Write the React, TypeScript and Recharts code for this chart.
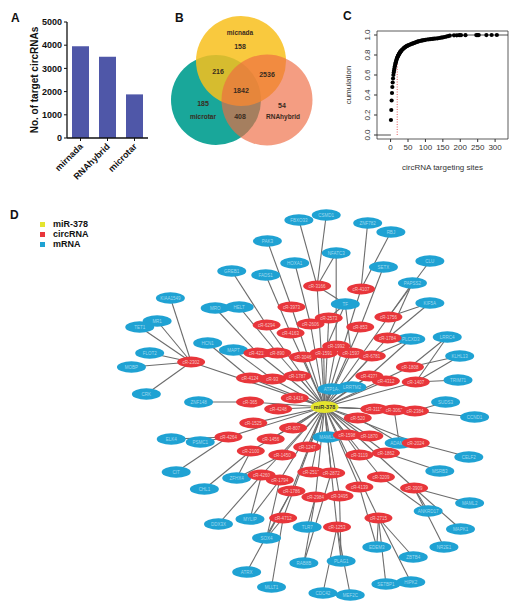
import { BarChart, Bar, XAxis, YAxis, ScatterChart, Scatter, ReferenceArea, Legend } from 'recharts';

const FONT = '"Liberation Sans", Arial, Helvetica, sans-serif';

// ---- A: target circRNAs predicted by each tool
const tools = ['mirnada', 'RNAhybrid', 'microtar'];
const targetCounts = [3960, 3500, 1880];
const countTicks = [0, 1000, 2000, 3000, 4000, 5000];

// ---- B: venn of the three tools (drawing order: microtar, micnada, RNAhybrid)
const vennSets = ['microtar', 'micnada', 'RNAhybrid'];
const vennRegionCounts = [158, 216, 2536, 1842, 185, 408, 54];
// layout of the venn (chart units)
const vennCenters = [[66, 100], [91, 61], [117, 100]];
const vennRadius = [45, 45, 45.5];
const vennSetLabelPos = [[53, 117], [90, 33], [133, 117]];
const vennRegionPos = [[90, 47], [68, 72], [117, 75], [91, 91], [53, 104], [90, 117], [132, 106]];

// ---- C: cumulative distribution of circRNA targeting sites
const siteCounts = [
  1, 2, 3, 4, 5, 6, 7, 8, 9, 10, 11, 12, 13, 14, 15, 16, 17, 18, 19, 20,
  21, 22, 23, 24, 25, 26, 27, 28, 29, 30, 32, 34, 36, 38, 40, 42, 44, 46, 48, 50,
  53, 56, 59, 62, 65, 68, 71, 74, 77, 80, 84, 88, 92, 96, 100,
  105, 110, 115, 120, 125, 130, 135, 140, 145, 150, 155, 160, 165, 170,
  182, 190, 197, 202, 215, 246, 250, 253, 275, 290, 305,
];
const cumulation = [
  0.15, 0.25, 0.345, 0.42, 0.48, 0.525, 0.565, 0.6, 0.625, 0.645,
  0.665, 0.685, 0.7, 0.715, 0.728, 0.74, 0.752, 0.762, 0.772, 0.78,
  0.788, 0.795, 0.802, 0.808, 0.814, 0.82, 0.826, 0.831, 0.836, 0.84,
  0.848, 0.855, 0.862, 0.868, 0.874, 0.879, 0.884, 0.888, 0.892, 0.896,
  0.9, 0.905, 0.909, 0.913, 0.917, 0.921, 0.925, 0.929, 0.933, 0.936,
  0.94, 0.943, 0.946, 0.949, 0.952,
  0.955, 0.957, 0.959, 0.961, 0.963, 0.965, 0.967, 0.97, 0.973, 0.976, 0.98, 0.984, 0.988, 0.993,
  0.997, 0.997, 0.998, 0.998, 0.998, 0.999, 0.999, 0.999, 0.999, 1, 1,
];
const siteTicks = [0, 50, 100, 150, 200, 250, 300];
const cumTicks = [0, 0.2, 0.4, 0.6, 0.8, 1];
const siteCutoff = 19;
const siteDomain = [-39, 337];
const cumDomain = [-0.04, 1.04];

// ---- D: miR-378 / circRNA / mRNA network
const hubName = 'miR-378';
const hubPos = [283, 407];
const circRNAs = [
  'cR-3166', 'cR-4107', 'cR-1756', 'cR-2573', 'cR-2606', 'cR-853', 'cR-1784', 'cR-1992', 'cR-1591', 'cR-1593',
  'cR-6781', 'cR-1808', 'cR-4371', 'cR-4312', 'cR-1407', 'cR-3046', 'cR-3973', 'cR-6294', 'cR-4163', 'cR-4210',
  'cR-890', 'cR-2302', 'cR-4124', 'cR-93', 'cR-1787', 'cR-365', 'cR-1416', 'cR-4248', 'cR-1525', 'cR-807',
  'cR-4264', 'cR-1456', 'cR-2100', 'cR-1450', 'cR-1247', 'cR-4260', 'cR-1794', 'cR-1786', 'cR-2513', 'cR-2984',
  'cR-4712', 'cR-3115', 'cR-3062', 'cR-2384', 'cR-520', 'cR-1598', 'cR-1870', 'cR-2024', 'cR-1862', 'cR-3119',
  'cR-2872', 'cR-3495', 'cR-4139', 'cR-3209', 'cR-3909', 'cR-2715', 'cR-1253',
];
const circX = [
  274, 327, 360, 288, 266, 326, 359, 297, 282, 315, 340, 386, 337, 357, 393, 257, 243, 213, 242, 202,
  226, 122, 193, 220, 250, 193, 247, 227, 197, 245, 167, 218, 194, 232, 262, 207, 229, 243, 267, 272,
  233, 343, 367, 392, 323, 310, 337, 393, 357, 325, 291, 301, 325, 351, 391, 348, 298,
];
const circY = [
  286, 289, 317, 318, 324, 327, 338, 346, 353, 353, 356, 367, 376, 381, 382, 357, 307, 325, 333, 353,
  353, 362, 378, 379, 376, 402, 398, 409, 423, 428, 437, 439, 451, 455, 447, 475, 480, 491, 472, 497,
  518, 409, 410, 411, 418, 435, 436, 443, 453, 455, 473, 496, 487, 477, 488, 518, 527,
];
const mRNAs = [
  'FBXO33', 'CSMD1', 'ZNF782', 'RBJ', 'PAK3', 'NFATC3', 'HOXA1', 'CLU', 'SETX', 'GREB1',
  'FADS1', 'PAPSS2', 'KIAA1549', 'KIF5A', 'TF', 'MRO', 'HELT', 'MR1', 'TET1', 'PLCXD3',
  'LRRC4', 'HCN1', 'MAPT', 'FLOT2', 'KLHL13', 'MOBP', 'TRIM71', 'ATP1A4', 'LRRTM2', 'CRK',
  'ZNF148', 'SUDS3', 'CCND1', 'ELK4', 'PSMC1', 'MAML3', 'ADAM10', 'CELF2', 'CIT', 'ZFHX4',
  'MSRB3', 'CHL1', 'MAML2', 'ANKRD17', 'MYLIP', 'DDX3X', 'TLR7', 'MAPK1', 'SOX4', 'NR2E1',
  'EDEM3', 'ZBTB4', 'PLAG1', 'RAB8B', 'ATRX', 'SETBP1', 'HIPK2', 'MLLT1', 'CDC42', 'MEF2C',
];
const mRNAX = [
  252, 285, 335, 363, 214, 297, 247, 410, 354, 171, 212, 389, 97, 410, 308, 151, 180, 81, 60, 387,
  431, 142, 173, 72, 446, 50, 444, 292, 316, 68, 131, 429, 464, 98, 133, 286, 373, 457, 104, 177,
  422, 138, 458, 408, 193, 155, 262, 447, 213, 427, 346, 390, 303, 258, 189, 357, 387, 219, 281, 314,
];
const mRNAY = [
  220, 215, 223, 232, 241, 253, 263, 261, 267, 271, 275, 283, 298, 303, 304, 308, 307, 321, 327, 339,
  337, 343, 350, 353, 356, 367, 380, 389, 387, 394, 402, 402, 417, 439, 442, 437, 443, 457, 472, 478,
  471, 489, 503, 511, 519, 524, 527, 529, 538, 547, 547, 557, 561, 563, 572, 584, 582, 587, 593, 595,
];
// mRNA -> circRNA (or miR-378) interactions
const mRNALinks = [
  ['FBXO33', 'cR-3166'], ['CSMD1', 'cR-3166'], ['ZNF782', 'cR-4107'], ['RBJ', 'cR-4107'],
  ['PAK3', 'cR-3973'], ['NFATC3', 'cR-3166'], ['NFATC3', 'cR-1992'], ['HOXA1', 'cR-2606'],
  ['CLU', 'cR-1756'], ['SETX', 'cR-853'], ['GREB1', 'cR-6294'], ['FADS1', 'cR-4163'],
  ['PAPSS2', 'cR-1756'], ['PAPSS2', 'cR-1784'], ['KIAA1549', 'cR-2302'], ['KIF5A', 'cR-1756'],
  ['KIF5A', 'cR-1784'], ['TF', 'cR-3166'], ['TF', 'cR-2573'], ['TF', 'cR-1591'], ['TF', 'cR-1593'],
  ['MRO', 'cR-4210'], ['HELT', 'cR-890'], ['MR1', 'cR-2302'], ['TET1', 'cR-2302'],
  ['FLOT2', 'cR-2302'], ['MOBP', 'cR-2302'], ['CRK', 'cR-2302'], ['PLCXD3', 'cR-1784'],
  ['PLCXD3', 'cR-6781'], ['PLCXD3', 'cR-4371'], ['LRRC4', 'cR-1808'], ['LRRC4', 'cR-1407'],
  ['HCN1', 'cR-4124'], ['MAPT', 'cR-93'], ['KLHL13', 'cR-1808'], ['KLHL13', 'cR-1407'],
  ['TRIM71', 'cR-1407'], ['ATP1A4', 'miR-378'], ['LRRTM2', 'miR-378'], ['LRRTM2', 'cR-4371'],
  ['ZNF148', 'cR-365'], ['SUDS3', 'cR-2384'], ['CCND1', 'cR-2384'], ['ELK4', 'cR-4264'],
  ['PSMC1', 'cR-4264'], ['MAML3', 'miR-378'], ['ADAM10', 'cR-520'], ['ADAM10', 'cR-3062'],
  ['CELF2', 'cR-2024'], ['CIT', 'cR-4264'], ['ZFHX4', 'cR-2100'], ['ZFHX4', 'cR-1450'],
  ['MSRB3', 'cR-1862'], ['CHL1', 'cR-2100'], ['MAML2', 'cR-3909'], ['ANKRD17', 'cR-3209'],
  ['ANKRD17', 'cR-3909'], ['MYLIP', 'cR-4260'], ['MYLIP', 'cR-1794'], ['DDX3X', 'cR-4260'],
  ['TLR7', 'cR-2984'], ['MAPK1', 'cR-3909'], ['SOX4', 'cR-1786'], ['SOX4', 'cR-4712'],
  ['SOX4', 'cR-1794'], ['NR2E1', 'cR-3909'], ['EDEM3', 'cR-4139'], ['EDEM3', 'cR-2715'],
  ['ZBTB4', 'cR-2715'], ['PLAG1', 'cR-3495'], ['PLAG1', 'cR-1253'], ['RAB8B', 'cR-2984'],
  ['RAB8B', 'cR-2872'], ['ATRX', 'cR-1786'], ['SETBP1', 'cR-2715'], ['HIPK2', 'cR-2715'],
  ['MLLT1', 'cR-4712'], ['CDC42', 'cR-1253'], ['MEF2C', 'cR-1253'],
];
const legendItems = ['miR-378', 'circRNA', 'mRNA'];

const nodeColors: Record<string, string> = { 'miR-378': '#e4e42e', circRNA: '#e8363b', mRNA: '#1fa2d3' };

// build tables
const toolData = tools.map((name, i) => ({ name, count: targetCounts[i] }));
const vennColors: Record<string, { fill: string; opacity: number }> = {
  microtar: { fill: '#19a79a', opacity: 1 },
  micnada: { fill: '#f8c01c', opacity: 0.85 },
  RNAhybrid: { fill: '#ee6a42', opacity: 0.66 },
};
const vennCircles = vennSets.map((name, i) => ({ name, x: vennCenters[i][0], y: vennCenters[i][1], r: vennRadius[i] }));
const vennNames = vennSets.map((name, i) => ({ text: name, x: vennSetLabelPos[i][0], y: vennSetLabelPos[i][1] }));
const vennNumbers = vennRegionCounts.map((n, i) => ({ text: String(n), x: vennRegionPos[i][0], y: vennRegionPos[i][1] }));

const ecdfPoints = siteCounts.map((x, i) => ({ x, y: cumulation[i] }));
const lowTail = [{ x: siteDomain[0], y: 0 }, { x: siteCounts[0], y: 0 }];
const highTail = [{ x: 170, y: 1 }, { x: siteDomain[1], y: 1 }];
const cutoffLine = [{ x: siteCutoff, y: 0 }, { x: siteCutoff, y: cumulation[siteCutoff - 1] }];

const posOf: Record<string, { x: number; y: number }> = { [hubName]: { x: hubPos[0], y: hubPos[1] } };
circRNAs.forEach((n, i) => { posOf[n] = { x: circX[i], y: circY[i] }; });
mRNAs.forEach((n, i) => { posOf[n] = { x: mRNAX[i], y: mRNAY[i] }; });
const edges = [
  ...circRNAs.map(c => [posOf[hubName], posOf[c]]),
  ...mRNALinks.map(([m, t]) => [posOf[m], posOf[t]]),
];
const hubNode = [{ name: hubName, ...posOf[hubName] }];
const circNodes = circRNAs.map(name => ({ name, ...posOf[name] }));
const mRNANodes = mRNAs.map(name => ({ name, ...posOf[name] }));

const noDot = () => <g />;

const ToolTick = (props: any) => {
  const { x, y, payload } = props;
  return (
    <text x={x + 3} y={y + 4} transform={`rotate(-45 ${x + 3} ${y + 4})`} textAnchor="end"
      fontSize={9} fontWeight="bold" fill="#111" fontFamily={FONT}>{payload.value}</text>
  );
};

const CumTick = (props: any) => {
  const { x, y, payload } = props;
  return (
    <text x={x - 2} y={y} transform={`rotate(-90 ${x - 2} ${y})`} textAnchor="middle"
      fontSize={8} fill="#333" fontFamily={FONT}>{payload.value.toFixed(1)}</text>
  );
};

const vennCircleShape = (props: any) => {
  const { cx, cy, payload } = props;
  const c = vennColors[payload.name];
  return <circle cx={cx} cy={cy} r={payload.r} fill={c.fill} fillOpacity={c.opacity} />;
};
const vennTextShape = (size: number, weight: number) => (props: any) => (
  <text x={props.cx} y={props.cy} dy="0.35em" textAnchor="middle" fontSize={size} fontWeight={weight}
    fill="#3a2b1e" fontFamily={FONT}>{props.payload.text}</text>
);

const nodeShape = (fill: string, rx: number, ry: number, textFill: string, fontSize: number, bold = false) =>
  (props: any) => (
    <g>
      <ellipse cx={props.cx} cy={props.cy} rx={rx} ry={ry} fill={fill} />
      <text x={props.cx} y={props.cy} dy="0.35em" textAnchor="middle" fontSize={fontSize}
        fontWeight={bold ? 'bold' : 'normal'} fill={textFill} fontFamily={FONT}>{props.payload.name}</text>
    </g>
  );

const NetworkLegend = () => (
  <ul style={{ listStyle: 'none', margin: 0, padding: 0 }}>
    {legendItems.map(item => (
      <li key={item} style={{ height: 10, lineHeight: '10px', fontSize: 9, fontWeight: 'bold', color: '#111', whiteSpace: 'nowrap' }}>
        <span style={{ display: 'inline-block', width: 5, height: 5, background: nodeColors[item], marginRight: 8, verticalAlign: 'middle' }} />
        {item}
      </li>
    ))}
  </ul>
);

const panelLabel = (text: string, left: number, top: number) => (
  <div style={{ position: 'absolute', left, top, fontSize: 12, fontWeight: 'bold', color: '#111' }}>{text}</div>
);

export default function App() {
  return (
    <div style={{ position: 'absolute', left: 0, top: 0, width: 526, height: 606, background: '#fff', fontFamily: FONT, overflow: 'hidden' }}>
      {panelLabel('A', 11, 11)}
      {panelLabel('B', 175, 11)}
      {panelLabel('C', 343, 9)}
      {panelLabel('D', 10, 208)}

      {/* A */}
      <div style={{ position: 'absolute', left: 0, top: 0 }}>
        <BarChart width={160} height={185} data={toolData} margin={{ top: 22, right: 12, left: 0, bottom: 0 }}>
          <XAxis dataKey="name" height={47} interval={0} tick={<ToolTick />} tickSize={3}
            axisLine={{ stroke: '#111', strokeWidth: 1.3 }} tickLine={{ stroke: '#111' }} />
          <YAxis width={67} domain={[0, 5000]} ticks={countTicks} interval={0} tickSize={3}
            axisLine={{ stroke: '#111', strokeWidth: 1.3 }} tickLine={{ stroke: '#111' }}
            tick={{ fontSize: 9, fontWeight: 'bold', fill: '#111' }}
            label={(p: any) => {
              const vb = p.viewBox;
              const lx = vb.x + 38;
              const ly = vb.y + vb.height / 2;
              return (
                <text x={lx} y={ly} transform={`rotate(-90 ${lx} ${ly})`} textAnchor="middle" fontSize={10}
                  fontWeight="bold" fill="#111" fontFamily={FONT}>No. of target circRNAs</text>
              );
            }} />
          <Bar dataKey="count" fill="#4f57a8" barSize={17} isAnimationActive={false} />
        </BarChart>
      </div>

      {/* B */}
      <div style={{ position: 'absolute', left: 150, top: 0 }}>
        <ScatterChart width={180} height={170} margin={{ top: 0, right: 0, bottom: 0, left: 0 }}>
          <XAxis type="number" dataKey="x" domain={[0, 180]} hide allowDataOverflow />
          <YAxis type="number" dataKey="y" domain={[0, 170]} reversed hide allowDataOverflow />
          <Scatter data={vennCircles} shape={vennCircleShape} isAnimationActive={false} />
          <Scatter data={vennNames} shape={vennTextShape(6.5, 600)} isAnimationActive={false} />
          <Scatter data={vennNumbers} shape={vennTextShape(7, 700)} isAnimationActive={false} />
        </ScatterChart>
      </div>

      {/* C */}
      <div style={{ position: 'absolute', left: 330, top: 0 }}>
        <ScatterChart width={196} height={175} margin={{ top: 31, right: 18, bottom: 0, left: 0 }}>
          <XAxis type="number" dataKey="x" domain={siteDomain} ticks={siteTicks} interval={0} allowDataOverflow height={36}
            axisLine={false} tickLine={{ stroke: '#333' }} tickSize={3} tick={{ fontSize: 8, fill: '#333' }}
            label={{ value: 'circRNA targeting sites', position: 'insideBottom', offset: 5, fontSize: 8, fill: '#333' }} />
          <YAxis type="number" dataKey="y" domain={cumDomain} ticks={cumTicks} interval={0} allowDataOverflow width={47}
            axisLine={false} tickLine={{ stroke: '#333' }} tickSize={3} tick={<CumTick />}
            label={(p: any) => {
              const vb = p.viewBox;
              const lx = vb.x + 21;
              const ly = vb.y + vb.height / 2;
              return (
                <text x={lx} y={ly} transform={`rotate(-90 ${lx} ${ly})`} textAnchor="middle" fontSize={8}
                  fill="#333" fontFamily={FONT}>cumulation</text>
              );
            }} />
          <ReferenceArea x1={siteDomain[0]} x2={siteDomain[1]} y1={cumDomain[0]} y2={cumDomain[1]}
            fill="none" stroke="#333" strokeWidth={0.8} ifOverflow="visible" />
          <Scatter data={lowTail} line={{ stroke: '#222', strokeWidth: 0.8 }} shape={noDot} isAnimationActive={false} />
          <Scatter data={highTail} line={{ stroke: '#222', strokeWidth: 0.8 }} shape={noDot} isAnimationActive={false} />
          <Scatter data={cutoffLine} line={{ stroke: '#e03030', strokeWidth: 0.8, strokeDasharray: '1 1.5' }} shape={noDot} isAnimationActive={false} />
          <Scatter data={ecdfPoints} shape={(p: any) => <circle cx={p.cx} cy={p.cy} r={2.1} fill="#000" />} isAnimationActive={false} />
        </ScatterChart>
      </div>

      {/* D */}
      <div style={{ position: 'absolute', left: 0, top: 180 }}>
        <ScatterChart width={526} height={426} margin={{ top: 0, right: 0, bottom: 0, left: 0 }}>
          <XAxis type="number" dataKey="x" domain={[0, 526]} hide allowDataOverflow />
          <YAxis type="number" dataKey="y" domain={[180, 606]} reversed hide allowDataOverflow />
          <Legend layout="vertical" align="left" verticalAlign="top" content={<NetworkLegend />}
            wrapperStyle={{ left: 40, top: 39, width: 90 }} />
          {edges.map((e, i) => (
            <Scatter key={`e${i}`} data={e} line={{ stroke: '#6c6c6c', strokeWidth: 1.1 }} shape={noDot}
              legendType="none" isAnimationActive={false} />
          ))}
          <Scatter name="mRNA" data={mRNANodes} shape={nodeShape(nodeColors.mRNA, 14.5, 5.8, '#9fd8ee', 4.5)} isAnimationActive={false} />
          <Scatter name="circRNA" data={circNodes} shape={nodeShape(nodeColors.circRNA, 14, 5.4, '#f7c4c4', 4.5)} isAnimationActive={false} />
          <Scatter name="miR-378" data={hubNode} shape={nodeShape(nodeColors['miR-378'], 14, 6, '#333', 5.5, true)} isAnimationActive={false} />
        </ScatterChart>
      </div>
    </div>
  );
}
